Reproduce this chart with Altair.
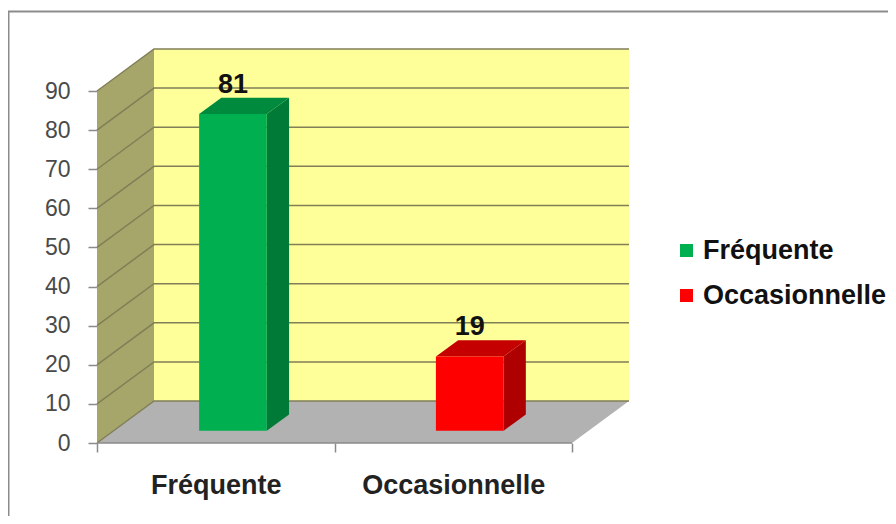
import altair as alt
import pandas as pd

categories = ["Fréquente", "Occasionnelle"]
values = [81, 19]
y_ticks = [0, 10, 20, 30, 40, 50, 60, 70, 80, 90]
front_colors = ["#00B050", "#FF0000"]
side_colors = ["#007A37", "#AE0000"]
top_colors = ["#008A3E", "#C40000"]

# geometry of the oblique projection, in axis units
W, H = 880, 508
PX_X, PX_Y = 237.5, 3.911
X0, Y0 = 89, 435          # axis origin in plot pixels
DX, DV = 57 / PX_X, 42 / PX_Y
Xdom = [-X0 / PX_X, (W - X0) / PX_X]
Ydom = [-(H - Y0) / PX_Y, Y0 / PX_Y]
BAR_L = [0.43, 1.427]
BAR_W = 0.285
D0, D1 = 0.29, 0.68
FONT = "Liberation Sans"

xs = alt.Scale(domain=Xdom, range=[0, W], nice=False, zero=False)
ys = alt.Scale(domain=Ydom, range=[H, 0], nice=False, zero=False)

label_expr = f"datum.value == 0.5 ? '{categories[0]}' : datum.value == 1.5 ? '{categories[1]}' : ''"
x_axis = alt.Axis(
    values=[0, 0.5, 1, 1.5, 2], labelExpr=label_expr, grid=False, domain=False,
    offset=-(H - Y0), orient="bottom", tickSize=9, tickColor="#8A8A8A", tickWidth=1.5,
    tickOpacity=alt.condition("datum.value % 1 == 0", alt.value(1), alt.value(0)),
    labelFont=FONT, labelFontSize=27, labelFontWeight="bold", labelColor="#222222",
    labelPadding=20, labelFlush=False, labelOverlap=False, labelLimit=400, title=None)
y_axis = alt.Axis(
    values=y_ticks, grid=False, domain=False, offset=-X0, orient="left", format="d",
    tickSize=9, tickColor="#8A8A8A", tickWidth=1.5,
    labelFont=FONT, labelFontSize=23, labelColor="#4A4A4A", labelPadding=18, title=None)
X = alt.X("x:Q", scale=xs, axis=x_axis)
Y = alt.Y("y:Q", scale=ys, axis=y_axis)


def P(c, v, d):
    return c + DX * d, v + DV * d


def band(pts):
    return pd.DataFrame([{"x": x, "y": hi, "y2": lo} for x, hi, lo in pts])


def area(df, color):
    return alt.Chart(df).mark_area(color=color, interpolate="linear").encode(x=X, y=Y, y2="y2:Q")


def seg(rows, color, width=1.5):
    df = pd.DataFrame([{"g": i, "o": j, "x": p[0], "y": p[1]}
                       for i, r in enumerate(rows) for j, p in enumerate(r)])
    return alt.Chart(df).mark_line(color=color, strokeWidth=width).encode(
        x=X, y=Y, detail="g:N", order="o:Q")


ymax = max(y_ticks)
layers = []

# frame (left and top edges; the rest runs off the picture)
frame_left = (-X0 + 0.5) / PX_X
frame_top = (Y0 - 3.5) / PX_Y
layers.append(seg([[(frame_left, Ydom[0]), (frame_left, frame_top), (Xdom[1], frame_top)]], "#8C8C8C", 2))

# back wall
bx0, by0 = P(0, 0, 1)
bx1, by1 = P(2, ymax, 1)
layers.append(area(band([(bx0, by1, by0), (bx1, by1, by0)]), "#FFFF99"))
# floor
fx0, fy0 = P(0, 0, 0)
fx1, fy1 = P(2, 0, 0)
layers.append(area(band([(fx0, fy0, fy0), (bx0, by0, fy0), (fx1, by0, fy0), (bx1, by0, by0)]), "#B2B2B2"))
# left wall
layers.append(area(band([(fx0, ymax, 0), (bx0, ymax + DV, DV)]), "#A6A66A"))

# grid lines on back wall and left wall
layers.append(seg([[P(0, t, 0), P(0, t, 1), P(2, t, 1)] for t in y_ticks], "#807F58", 1.5))
# axis lines
layers.append(seg([[(0, 0), (2, 0)]], "#8A8A8A", 1.5))

# bars: side and top faces
for i, v in enumerate(values):
    l, r = BAR_L[i], BAR_L[i] + BAR_W
    sh = DX * (D1 - D0)
    y_f0 = DV * D0
    y_f1 = v + DV * D0
    y_b0 = DV * D1
    y_b1 = v + DV * D1
    layers.append(area(band([(r, y_f1, y_f0), (r + sh, y_b1, y_b0)]), side_colors[i]))
    layers.append(area(band([(l, y_f1, y_f1), (l + sh, y_b1, y_f1), (r, y_b1, y_f1), (r + sh, y_b1, y_b1)]), top_colors[i]))

# front faces carry the legend
front = pd.DataFrame([
    {"cat": c, "x": BAR_L[i] + k * BAR_W, "y": values[i] + DV * D0, "y2": DV * D0}
    for i, c in enumerate(categories) for k in (0, 1)
])
legend = alt.Legend(title=None, orient="none", legendX=665, legendY=229, symbolType="square",
                    symbolSize=169, symbolStrokeWidth=0, symbolOpacity=1, labelFont=FONT,
                    labelFontSize=27, labelFontWeight="bold", labelColor="#111111",
                    labelOffset=3, labelLimit=300, rowPadding=17, padding=0)
layers.append(alt.Chart(front).mark_area(interpolate="linear", opacity=1).encode(
    x=X, y=Y, y2="y2:Q",
    color=alt.Color("cat:N", sort=categories,
                    scale=alt.Scale(domain=categories, range=front_colors), legend=legend),
))

# value labels
lab = pd.DataFrame({
    "x": [BAR_L[i] + BAR_W / 2 for i in range(2)],
    "y": [values[i] + DV * D1 for i in range(2)],
    "t": [str(v) for v in values],
})
layers.append(alt.Chart(lab).mark_text(font=FONT, fontSize=27, fontWeight="bold", color="#111111",
                                       baseline="middle", align="center", dy=-13).encode(
    x=X, y=Y, text="t:N",
))

chart = alt.layer(*layers).properties(
    width=W, height=H, padding=0, autosize=alt.AutoSizeParams(type="none"), background="white"
).configure_view(stroke=None)

chart.save("out.html", embed_options={"renderer": "svg", "actions": False})
